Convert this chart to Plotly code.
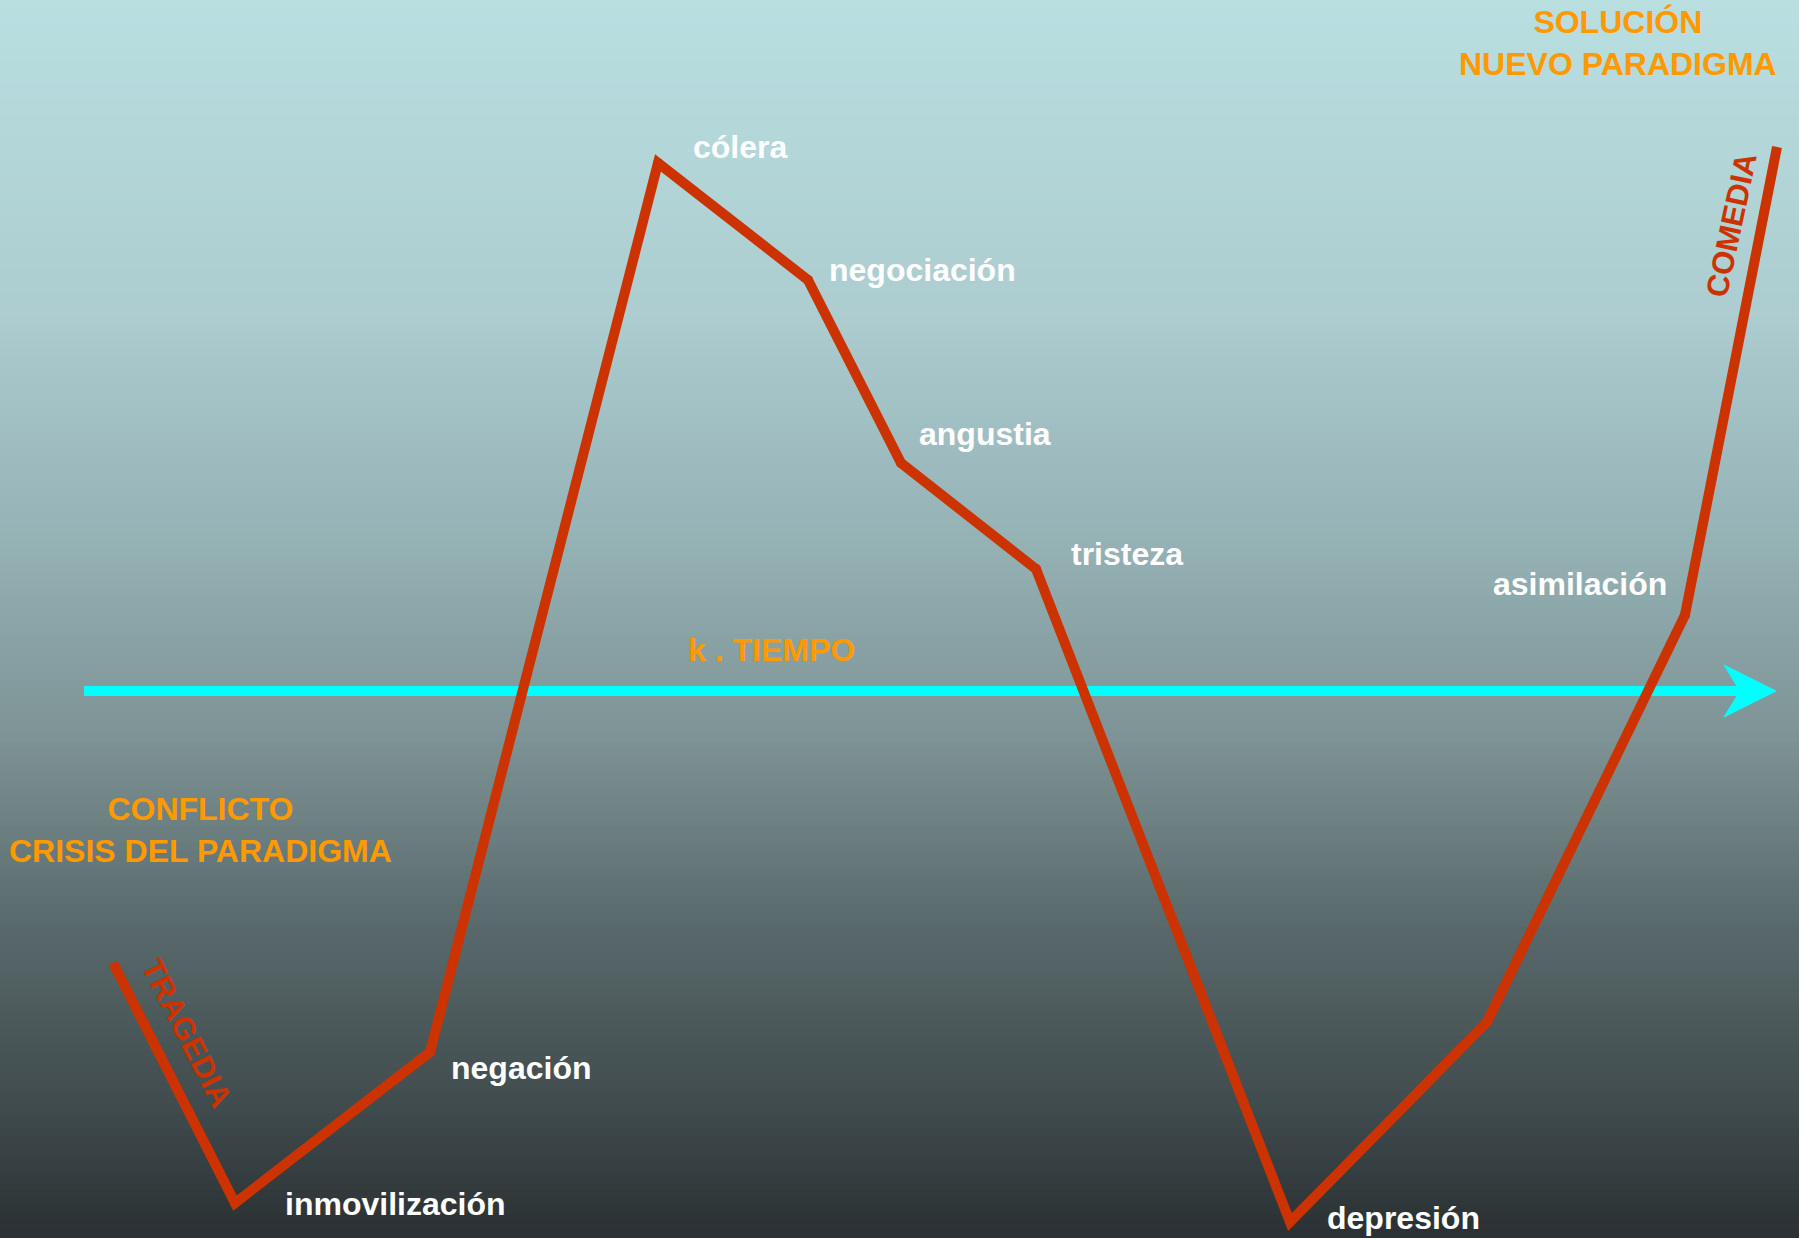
import plotly.graph_objects as go

# ---- data (diagram units = pixel grid of the original slide) ----
stages = ["", "inmovilización", "negación", "cólera", "negociación", "angustia",
          "tristeza", "depresión", "", "asimilación", "fin"]
stage_x = [113, 235, 430, 658, 808, 901, 1036, 1290, 1487, 1685, 1777]
stage_y = [963, 1203, 1052, 163, 280, 463, 569, 1222, 1022, 615, 147]

axis_x = [84, 1776]
axis_y = 691
axis_label = "k . TIEMPO"

W, H = 1799, 1238
RED = "#cc3300"
ORANGE = "#ff9900"
CYAN = "#00ffff"
FONT = "Liberation Sans, Arial, sans-serif"

fig = go.Figure()

# ---- gradient background ----
stops = [(0.0, (185, 223, 225)), (0.25, (173, 205, 208)), (0.45, (147, 176, 179)),
         (0.6, (125, 146, 148)), (0.75, (89, 105, 107)), (0.9, (63, 74, 76)),
         (1.0, (42, 48, 51))]


def col(t):
    for (t0, c0), (t1, c1) in zip(stops[:-1], stops[1:]):
        if t0 <= t <= t1:
            f = (t - t0) / (t1 - t0)
            return "rgb(%d,%d,%d)" % tuple(round(a + (b - a) * f) for a, b in zip(c0, c1))
    return "rgb(%d,%d,%d)" % stops[-1][1]


n = 160
shapes = []
for i in range(n):
    t = (i + 0.5) / n
    shapes.append(dict(type="rect", xref="paper", yref="paper", x0=0, x1=1,
                       y0=1 - (i + 1) / n - 0.001, y1=1 - i / n + 0.001,
                       fillcolor=col(t), line=dict(width=0), layer="below"))

# ---- time axis arrow ----
head_len, head_half, notch = 52, 26, 36
fig.add_trace(go.Scatter(x=[axis_x[0], axis_x[1] - notch], y=[axis_y, axis_y], mode="lines",
                         line=dict(color=CYAN, width=10), hoverinfo="skip", showlegend=False))
tip = axis_x[1]
fig.add_trace(go.Scatter(x=[tip, tip - head_len, tip - notch, tip - head_len, tip],
                         y=[axis_y, axis_y - head_half, axis_y, axis_y + head_half, axis_y],
                         mode="lines", fill="toself", fillcolor=CYAN,
                         line=dict(color=CYAN, width=1), hoverinfo="skip", showlegend=False))

# ---- emotional curve ----
fig.add_trace(go.Scatter(x=stage_x, y=stage_y, mode="lines",
                         line=dict(color=RED, width=10), hoverinfo="skip", showlegend=False))
# round joints at the vertices
fig.add_trace(go.Scatter(x=stage_x[1:-1], y=stage_y[1:-1], mode="markers",
                         marker=dict(color=RED, size=10, line=dict(width=0)),
                         hoverinfo="skip", showlegend=False))

# ---- labels ----
offsets = {  # (xanchor, xshift, yshift_down)
    "inmovilización": ("left", 48, 1),
    "negación": ("left", 19, 16),
    "cólera": ("left", 33, -16),
    "negociación": ("left", 19, -10),
    "angustia": ("left", 16, -29),
    "tristeza": ("left", 33, -15),
    "depresión": ("left", 35, -4),
    "asimilación": ("right", -16, -31),
}
ann = []
for name, x, y in zip(stages, stage_x, stage_y):
    if name in offsets:
        xa, xs, ys = offsets[name]
        ann.append(dict(x=x, y=y, text="<b>%s</b>" % name, showarrow=False, xanchor=xa,
                        yanchor="middle", xshift=xs, yshift=-ys,
                        font=dict(family=FONT, size=32, color="white")))

ann.append(dict(x=771, y=650, text="<b>%s</b>" % axis_label, showarrow=False,
                font=dict(family=FONT, size=32, color=ORANGE)))
ann.append(dict(x=200, y=830, text="<b>CONFLICTO<br>CRISIS DEL PARADIGMA</b>", showarrow=False,
                align="center", font=dict(family=FONT, size=32, color=ORANGE)))
ann.append(dict(x=1618, y=43, text="<b>SOLUCIÓN<br>NUEVO PARADIGMA</b>", showarrow=False,
                align="center", font=dict(family=FONT, size=32, color=ORANGE)))
ann.append(dict(x=187, y=1033, text="<b>TRAGEDIA</b>", showarrow=False, textangle=63,
                font=dict(family=FONT, size=31, color=RED)))
ann.append(dict(x=1731, y=225, text="<b>COMEDIA</b>", showarrow=False, textangle=-78,
                font=dict(family=FONT, size=31, color=RED)))

fig.update_layout(
    width=W, height=H, margin=dict(l=0, r=0, t=0, b=0),
    paper_bgcolor="#2a3033", plot_bgcolor="rgba(0,0,0,0)",
    xaxis=dict(range=[0, W], visible=False, fixedrange=True),
    yaxis=dict(range=[H, 0], visible=False, fixedrange=True),
    shapes=shapes, annotations=ann, showlegend=False,
)

fig.write_html("out.html", config={"displayModeBar": False},
               post_script="document.body.style.margin='0';")
